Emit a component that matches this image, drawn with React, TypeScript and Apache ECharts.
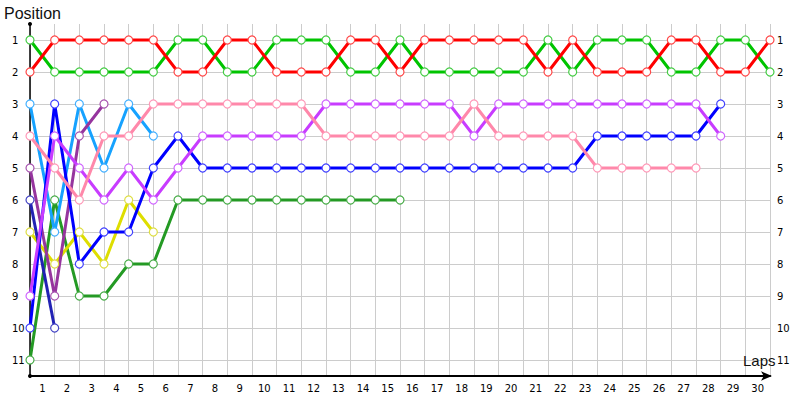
import React, { useEffect, useRef } from "react";
import * as echarts from "echarts";

const lapLabels = ["1","2","3","4","5","6","7","8","9","10","11","12","13","14","15","16","17","18","19","20","21","22","23","24","25","26","27","28","29","30"];
const positionTicks = [1, 2, 3, 4, 5, 6, 7, 8, 9, 10, 11];

const redPos = [2,1,1,1,1,1,2,2,1,1,2,2,2,1,1,2,1,1,1,1,1,2,1,2,2,2,1,1,2,2,1];
const greenPos = [1,2,2,2,2,2,1,1,2,2,1,1,1,2,2,1,2,2,2,2,2,1,2,1,1,1,2,2,1,1,2];
const pinkPos = [4,5,6,4,4,3,3,3,3,3,3,3,4,4,4,4,4,4,3,4,4,4,4,5,5,5,5,5];
const violetPos = [9,4,5,6,5,6,5,4,4,4,4,4,3,3,3,3,3,3,4,3,3,3,3,3,3,3,3,3,4];
const bluePos = [10,3,8,7,7,5,4,5,5,5,5,5,5,5,5,5,5,5,5,5,5,5,5,4,4,4,4,4,3];
const navyPos = [6,10];
const purplePos = [5,9,4,3];
const skyPos = [3,7,3,5,3,4];
const yellowPos = [7,8,7,8,6,7];
const darkGreenPos = [11,6,9,9,8,8,6,6,6,6,6,6,6,6,6,6];

const seriesDefs = [
  { name: "darkGreen", data: darkGreenPos, line: "#249a24", border: "#4aad4a" },
  { name: "yellow", data: yellowPos, line: "#dede00", border: "#dede44" },
  { name: "sky", data: skyPos, line: "#16a2ff", border: "#44b0ff" },
  { name: "purple", data: purplePos, line: "#96359e", border: "#a855b0" },
  { name: "navy", data: navyPos, line: "#2222b4", border: "#4444c4" },
  { name: "blue", data: bluePos, line: "#0000ff", border: "#4040ff" },
  { name: "violet", data: violetPos, line: "#c83cff", border: "#d066ff" },
  { name: "pink", data: pinkPos, line: "#ff88aa", border: "#ff99b8" },
  { name: "green", data: greenPos, line: "#00c400", border: "#44cc44" },
  { name: "red", data: redPos, line: "#ff0000", border: "#ff4848" },
];

export default function App() {
  const ref = useRef<HTMLDivElement>(null);
  useEffect(() => {
    if (!ref.current) return;
    const chart = echarts.init(ref.current, null, { renderer: "svg" });
    const labelFont = { fontFamily: "DejaVu Sans", fontSize: 10, color: "#000" };
    chart.setOption({
      animation: false,
      backgroundColor: "#fff",
      grid: { left: 30, right: 30, top: 24, bottom: 24, containLabel: false },
      xAxis: {
        type: "value",
        min: 0,
        max: 30,
        interval: 1,
        axisLine: {
          show: true,
          lineStyle: { color: "#000", width: 2 },
          symbol: ["none", "arrow"],
          symbolSize: [7, 11],
          symbolOffset: [0, 2],
        },
        axisTick: { show: false },
        splitLine: { show: true, lineStyle: { color: "#cccccc", width: 1 } },
        axisLabel: {
          ...labelFont,
          margin: 7,
          customValues: lapLabels.map((_, i) => i + 0.5),
          formatter: (v: number) => lapLabels[Math.round(v - 0.5)] ?? "",
        },
      },
      yAxis: [
        {
          type: "value",
          inverse: true,
          min: 0.5,
          max: 11.5,
          axisLine: {
            show: true,
            onZero: false,
            lineStyle: { color: "#000", width: 1.5 },
            symbol: ["circle", "circle"],
            symbolSize: [4, 4],
          },
          axisTick: { show: false, customValues: positionTicks },
          splitLine: { show: true, lineStyle: { color: "#cccccc", width: 1 } },
          axisLabel: { ...labelFont, margin: 18, align: "left", customValues: positionTicks },
        },
        {
          type: "value",
          inverse: true,
          position: "right",
          min: 0.5,
          max: 11.5,
          axisLine: { show: false },
          axisTick: { show: false, customValues: positionTicks },
          splitLine: { show: false },
          axisLabel: { ...labelFont, margin: 7, customValues: positionTicks },
        },
      ],
      graphic: [
        {
          type: "text",
          left: 4,
          top: 5,
          z: 100,
          style: { text: "Position", fontFamily: "Liberation Sans", fontSize: 16, fill: "#111" },
        },
        {
          type: "text",
          left: 743,
          top: 353,
          z: 100,
          style: { text: "Laps", fontFamily: "Liberation Sans", fontSize: 15, fill: "#111" },
        },
      ],
      series: seriesDefs.map((s) => ({
        name: s.name,
        type: "line",
        yAxisIndex: 0,
        data: s.data.map((p, i) => [i, p]),
        symbol: "circle",
        symbolSize: 8,
        showSymbol: true,
        lineStyle: { color: s.line, width: 3 },
        itemStyle: { color: "#fff", borderColor: s.border, borderWidth: 1.2 },
      })),
    });
    return () => chart.dispose();
  }, []);
  return (
    <div
      ref={ref}
      style={{ position: "fixed", left: 0, top: 0, width: 800, height: 400, background: "#fff" }}
    />
  );
}
